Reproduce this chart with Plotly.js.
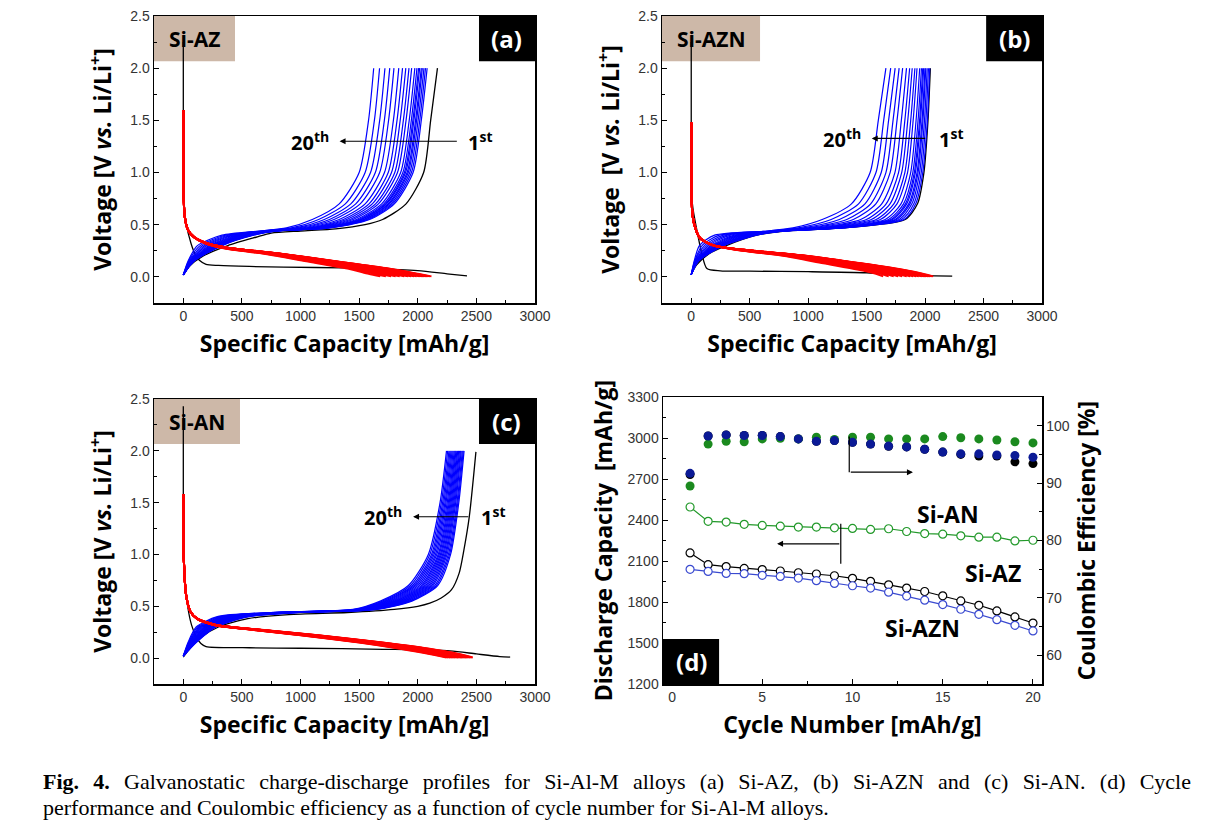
<!DOCTYPE html>
<html><head><meta charset="utf-8">
<script src="https://cdn.plot.ly/plotly-3.0.1.min.js"></script>
<style>
body{margin:0;background:#fff;}
#wrap{position:relative;width:1210px;height:828px;overflow:hidden;}
#chart{position:absolute;left:0;top:0;width:1210px;height:828px;}
.cap{position:absolute;left:43px;width:1148px;font-family:"Liberation Serif","Times New Roman",serif;font-size:22px;line-height:26px;color:#000;white-space:nowrap;}
#cap1{top:769px;text-align:justify;text-align-last:justify;white-space:normal;}
#cap2{top:795px;}
</style></head>
<body><div id="wrap"><div id="chart"></div>
<div class="cap" id="cap1"><b>Fig. 4.</b> Galvanostatic charge-discharge profiles for Si-Al-M alloys (a) Si-AZ, (b) Si-AZN and (c) Si-AN. (d) Cycle</div>
<div class="cap" id="cap2">performance and Coulombic efficiency as a function of cycle number for Si-Al-M alloys.</div>
</div>
<script>
// ---------- shared voltage levels for charge (delithiation) curves ----------
const chargeV = [0.02, 0.15, 0.3, 0.4, 0.44, 0.47, 0.55, 0.7, 1.0, 1.5, 2.0];

// ---------- (a) Si-AZ ----------
const azChargeCap = [ // cycles 2..20
[0,90,330,600,800,1250,1590,1800,1960,2030,2080],
[0,88,324,592,796,1239,1575,1786,1946,2017,2066],
[0,87,317,584,791,1228,1561,1772,1932,2003,2053],
[0,86,311,576,787,1217,1546,1758,1919,1990,2039],
[0,85,307,570,784,1209,1536,1748,1909,1981,2030],
[0,83,301,562,779,1198,1521,1734,1896,1967,2016],
[0,82,296,557,776,1191,1512,1725,1886,1958,2007],
[0,80,290,549,772,1180,1497,1711,1873,1945,1993],
[0,79,282,538,766,1165,1477,1692,1854,1927,1975],
[0,76,269,522,757,1143,1448,1664,1827,1900,1948],
[0,73,259,508,749,1124,1423,1640,1804,1877,1925],
[0,70,246,492,740,1102,1394,1612,1776,1850,1898],
[0,67,233,476,731,1080,1365,1584,1748,1823,1870],
[0,64,219,457,720,1054,1330,1551,1716,1792,1838],
[0,59,200,433,707,1021,1286,1509,1675,1751,1797],
[0,55,183,411,695,991,1247,1471,1638,1715,1761],
[0,50,164,387,682,958,1203,1429,1597,1675,1720],
[0,45,143,360,667,921,1154,1382,1551,1630,1674],
[0,40,120,330,650,880,1100,1330,1500,1580,1624]];
const azDisV = [1.6,1.0,0.6,0.45,0.38,0.32,0.28,0.22,0.15,0.08,0.03,0.005];
const azDisCap = [ // cycles 2..20
[0,2,10,40,95,210,380,850,1300,1750,2000,2117],
[0,2,10,40,95,209,378,846,1293,1740,1987,2104],
[0,2,10,40,95,209,376,841,1285,1729,1975,2091],
[0,2,10,40,95,208,375,837,1278,1719,1962,2078],
[0,2,10,40,94,208,373,834,1273,1712,1954,2069],
[0,2,10,40,94,207,372,829,1265,1701,1941,2056],
[0,2,10,40,94,207,370,826,1260,1694,1933,2047],
[0,2,10,40,94,206,369,822,1253,1684,1920,2034],
[0,2,10,40,94,205,366,816,1243,1670,1903,2016],
[0,2,10,40,94,204,363,807,1228,1649,1878,1990],
[0,2,10,40,93,203,360,799,1215,1631,1857,1968],
[0,2,10,40,93,202,356,790,1200,1610,1832,1942],
[0,2,10,40,93,201,352,781,1185,1589,1807,1916],
[0,2,10,40,92,199,348,771,1168,1565,1777,1885],
[0,2,10,40,92,198,343,757,1145,1533,1740,1846],
[0,2,10,40,92,196,338,745,1125,1505,1706,1811],
[0,2,10,40,91,194,333,732,1103,1474,1668,1772],
[0,2,10,40,91,192,327,717,1078,1439,1626,1728],
[0,2,10,40,90,190,320,700,1050,1400,1580,1680]];
const azFirstDisCap = [0,0,8,23,66,108,137,194,300,564,1134,1600,2000,2250,2420];
const azFirstDisV   = [2.25,1.2,0.7,0.52,0.32,0.2,0.16,0.12,0.11,0.1,0.09,0.08,0.06,0.03,0.01];
const azFirstChgCap = [0,50,170,380,620,750,1000,1300,1550,1700,1900,2050,2110,2168];
const azFirstChgV   = [0.02,0.1,0.2,0.3,0.38,0.42,0.44,0.46,0.5,0.55,0.7,1.0,1.5,2.0];

// ---------- (b) Si-AZN ----------
const aznChargeCap = [
[0,60,276,560,800,1300,1820,1920,1980,2020,2040],
[0,59,270,549,796,1287,1799,1904,1967,2007,2029],
[0,58,264,538,791,1274,1778,1887,1953,1995,2018],
[0,57,257,528,787,1261,1757,1871,1940,1982,2006],
[0,56,253,520,784,1253,1743,1860,1931,1974,1999],
[0,55,247,510,779,1240,1722,1843,1917,1961,1988],
[0,54,243,502,776,1231,1708,1832,1908,1953,1980],
[0,53,237,492,772,1218,1687,1816,1895,1940,1969],
[0,52,229,477,766,1201,1659,1794,1877,1923,1954],
[0,50,216,456,757,1175,1617,1760,1850,1898,1931],
[0,48,206,438,749,1154,1582,1733,1827,1877,1913],
[0,46,194,416,740,1128,1540,1700,1800,1852,1890],
[0,44,181,394,731,1102,1498,1667,1773,1827,1868],
[0,41,167,369,721,1072,1449,1629,1742,1797,1841],
[0,38,148,337,707,1033,1386,1579,1701,1760,1808],
[0,36,132,308,695,999,1330,1535,1665,1726,1778],
[0,32,113,276,682,960,1267,1486,1625,1688,1744],
[0,29,93,240,667,917,1197,1431,1580,1646,1706],
[0,25,70,200,650,870,1120,1370,1530,1600,1665]];
const aznDisV = [1.48,1.0,0.6,0.45,0.37,0.3,0.26,0.2,0.13,0.07,0.03,0.005];
const aznDisCap = [
[0,2,10,40,77,200,450,1000,1450,1800,1980,2070],
[0,2,10,40,77,200,448,994,1440,1789,1968,2057],
[0,2,10,40,77,199,446,988,1431,1777,1956,2044],
[0,2,10,40,77,199,444,982,1421,1766,1944,2031],
[0,2,10,40,77,199,442,978,1415,1758,1936,2023],
[0,2,10,40,77,199,440,972,1405,1747,1924,2010],
[0,2,10,40,77,198,439,968,1399,1739,1916,2002],
[0,2,10,40,77,198,437,962,1389,1728,1904,1989],
[0,2,10,40,77,198,434,954,1376,1713,1888,1972],
[0,2,10,40,76,197,430,942,1357,1690,1864,1946],
[0,2,10,40,76,197,426,932,1341,1671,1844,1924],
[0,2,10,40,76,196,422,920,1322,1648,1820,1899],
[0,2,10,40,76,195,418,908,1303,1625,1796,1873],
[0,2,10,40,76,195,413,894,1280,1599,1768,1843],
[0,2,10,40,76,194,407,876,1252,1564,1732,1805],
[0,2,10,40,76,193,401,860,1226,1534,1700,1770],
[0,2,10,40,75,192,395,842,1197,1500,1664,1732],
[0,2,10,40,75,191,388,822,1165,1462,1624,1689],
[0,2,10,40,75,190,380,800,1130,1420,1580,1642]];
const aznFirstDisCap = [0,0,10,48,91,134,248,500,1000,1500,1800,2000,2232];
const aznFirstDisV   = [2.25,1.5,0.7,0.45,0.22,0.08,0.058,0.055,0.05,0.04,0.02,0.012,0.008];
const aznFirstChgCap = [0,50,150,300,560,800,1300,1830,1935,1990,2025,2045];
const aznFirstChgV   = [0.03,0.12,0.22,0.3,0.4,0.44,0.47,0.55,0.7,1.0,1.5,2.0];

// ---------- (c) Si-AN ----------
const anChargeCap = [
[0,110,280,560,1000,1650,1950,2170,2280,2350,2395],
[0,107,272,547,988,1640,1937,2158,2271,2342,2388],
[0,103,263,533,975,1630,1923,2145,2261,2334,2380],
[0,99,253,517,960,1618,1907,2130,2250,2324,2371],
[0,95,244,503,948,1608,1893,2118,2240,2316,2364],
[0,92,236,490,935,1598,1880,2105,2231,2308,2356],
[0,88,227,476,923,1588,1866,2093,2221,2300,2349],
[0,85,219,463,910,1578,1853,2080,2212,2292,2341],
[0,81,210,449,898,1568,1839,2068,2202,2284,2334],
[0,78,202,436,885,1558,1826,2055,2193,2276,2326],
[0,74,193,422,873,1548,1812,2043,2183,2268,2319],
[0,71,185,409,860,1538,1799,2030,2174,2260,2311],
[0,67,175,393,845,1526,1783,2015,2162,2251,2302],
[0,62,164,376,830,1514,1766,2000,2151,2241,2293],
[0,58,154,360,815,1502,1750,1985,2139,2232,2284],
[0,54,144,344,800,1490,1734,1970,2128,2222,2275],
[0,50,134,328,785,1478,1718,1955,2117,2212,2266],
[0,45,122,309,768,1464,1699,1938,2103,2201,2255],
[0,40,110,290,750,1450,1680,1920,2090,2190,2245]];
const anDisV = [1.58,1.0,0.6,0.45,0.38,0.32,0.28,0.22,0.15,0.09,0.04,0.005];
const anDisCap = [
[0,3,25,60,120,280,600,1150,1700,2100,2350,2470],
[0,3,25,60,120,279,597,1143,1690,2088,2338,2459],
[0,3,25,60,120,278,593,1135,1680,2075,2325,2448],
[0,3,25,60,119,277,589,1126,1668,2060,2310,2434],
[0,3,25,60,119,276,585,1119,1658,2048,2298,2423],
[0,3,25,60,119,275,582,1111,1648,2035,2285,2412],
[0,3,25,60,118,274,578,1104,1638,2023,2273,2400],
[0,3,25,60,118,273,575,1096,1628,2010,2260,2389],
[0,3,25,60,118,272,571,1089,1618,1998,2248,2378],
[0,3,25,60,118,271,568,1081,1608,1985,2235,2367],
[0,3,25,60,117,270,564,1074,1598,1973,2223,2355],
[0,3,25,60,117,269,561,1066,1588,1960,2210,2344],
[0,3,25,60,117,268,557,1057,1576,1945,2195,2331],
[0,3,25,60,117,266,552,1048,1564,1930,2180,2317],
[0,3,25,60,116,265,548,1039,1552,1915,2165,2304],
[0,3,25,60,116,264,544,1030,1540,1900,2150,2290],
[0,3,25,60,116,263,540,1021,1528,1885,2135,2277],
[0,3,25,60,115,261,535,1011,1514,1868,2118,2261],
[0,3,25,60,115,260,530,1000,1500,1850,2100,2245]];
const anFirstDisCap = [0,0,10,37,70,108,150,194,564,1000,1704,2274,2500,2700,2788];
const anFirstDisV   = [2.43,1.5,0.8,0.5,0.32,0.21,0.14,0.11,0.1,0.095,0.085,0.07,0.04,0.015,0.01];
const anFirstChgCap = [0,60,150,300,550,900,1400,1800,2000,2103,2200,2288,2353,2393,2439,2496];
const anFirstChgV   = [0.01,0.1,0.2,0.3,0.38,0.42,0.44,0.47,0.5,0.53,0.58,0.66,0.82,1.04,1.36,1.99];

// ---------- (d) cycle performance ----------
const cycles = [1,2,3,4,5,6,7,8,9,10,11,12,13,14,15,16,17,18,19,20];
const anCap  = [2495,2390,2385,2368,2360,2355,2348,2348,2343,2338,2331,2336,2316,2301,2296,2284,2274,2274,2247,2252];
const azCap  = [2159,2073,2059,2046,2037,2027,2014,2005,1992,1973,1951,1926,1902,1877,1845,1808,1776,1735,1691,1646];
const aznCap = [2039,2024,2009,2007,1995,1987,1975,1956,1936,1919,1902,1872,1843,1813,1781,1747,1710,1671,1629,1588];
const anCE   = [89.5,96.8,97.3,97.2,97.7,97.8,97.7,98.0,97.6,98.0,98.0,97.7,97.7,97.7,98.1,97.9,97.7,97.5,97.2,97.0];
const azCE   = [91.5,98.2,98.4,98.3,98.3,98.1,97.7,97.3,97.4,97.1,96.8,96.4,96.3,95.9,95.4,95.0,94.7,94.7,93.7,93.4];
const aznCE  = [91.7,98.2,98.4,98.3,98.3,98.1,97.7,97.3,97.4,97.1,96.8,96.45,96.3,95.9,95.4,95.1,95.1,94.9,94.8,94.5];

// ---------- build ----------
const BLUE='#0000ff', RED='#ff0000', BLACK='#000000';
const traces=[];
function line(xa,ya,x,y,color,width){
  traces.push({x:x,y:y,xaxis:xa,yaxis:ya,mode:'lines',hoverinfo:'skip',showlegend:false,
    line:{color:color,width:width,shape:'spline',smoothing:0.7}});
}
function panel(xa,ya,chg,dis,disV,fdc,fdv,fcc,fcv){
  line(xa,ya,fdc,fdv,BLACK,1.3);
  line(xa,ya,fcc,fcv,BLACK,1.3);
  chg.forEach(r=>line(xa,ya,r,chargeV,BLUE,1.2));
  dis.forEach(r=>line(xa,ya,r,disV,RED,2));
}
panel('x','y',azChargeCap,azDisCap,azDisV,azFirstDisCap,azFirstDisV,azFirstChgCap,azFirstChgV);
panel('x2','y2',aznChargeCap,aznDisCap,aznDisV,aznFirstDisCap,aznFirstDisV,aznFirstChgCap,aznFirstChgV);
panel('x3','y3',anChargeCap,anDisCap,anDisV,anFirstDisCap,anFirstDisV,anFirstChgCap,anFirstChgV);

function openSeries(y,color){
  traces.push({x:cycles,y:y,xaxis:'x4',yaxis:'y4',mode:'lines+markers',hoverinfo:'skip',showlegend:false,
    line:{color:color,width:1.2},marker:{symbol:'circle',size:8,color:'#ffffff',line:{color:color,width:1.2}}});
}
function ceSeries(y,color){
  traces.push({x:cycles,y:y,xaxis:'x4',yaxis:'y5',mode:'markers',hoverinfo:'skip',showlegend:false,
    marker:{symbol:'circle',size:9,color:color}});
}
openSeries(anCap,'#22992a');
openSeries(azCap,'#000000');
openSeries(aznCap,'#3a4ad0');
ceSeries(azCE,'#000000');
ceSeries(anCE,'#1b8a1f');
ceSeries(aznCE,'#0b1a96');

// ---------- layout ----------
const tickFont={family:'"Liberation Sans", Arial, sans-serif',size:14,color:'#333'};
const titleFont={family:'"Open Sans", sans-serif',size:23,color:'#000'};
function ax(extra){
  return Object.assign({showline:true,linecolor:'#000',linewidth:1.5,mirror:true,ticks:'inside',ticklen:5,
    tickwidth:1,tickcolor:'#000',showgrid:false,zeroline:false,tickfont:tickFont,fixedrange:true},extra);
}
const D=(a,b)=>[a/1210,b/1210];
const V=(top,bot)=>[1-bot/828,1-top/828];
const capX=(dom,anchor)=>ax({domain:dom,anchor:anchor,range:[-250,3000],tickvals:[0,500,1000,1500,2000,2500,3000],
  minor:{ticks:'inside',ticklen:3,tickcolor:'#000',dtick:250,tick0:0},
  title:{text:'<b>Specific Capacity [mAh/g]</b>',font:titleFont,standoff:12}});
const voltY=(dom,anchor,txt)=>ax({domain:dom,anchor:anchor,range:[-0.25,2.5],tickvals:[0,0.5,1,1.5,2,2.5],tickformat:'.1f',
  minor:{ticks:'inside',ticklen:3,tickcolor:'#000',dtick:0.25,tick0:0},
  title:{text:txt,font:titleFont,standoff:12}});

const vt='<b>Voltage [V <i>vs.</i> Li/Li<sup>+</sup>]</b>';
const vt2='<b>Voltage \u00a0[V <i>vs.</i> Li/Li<sup>+</sup>]</b>';

const layout={
  width:1210,height:828,margin:{l:0,r:0,t:0,b:0},paper_bgcolor:'#fff',plot_bgcolor:'#fff',showlegend:false,
  xaxis:capX(D(154,535),'y'), yaxis:voltY(V(16,303),'x',vt),
  xaxis2:capX(D(662,1042),'y2'), yaxis2:voltY(V(16,303),'x2',vt2),
  xaxis3:capX(D(154,535),'y3'), yaxis3:voltY(V(399,684),'x3',vt),
  xaxis4:ax({domain:D(663,1042),anchor:'y4',range:[-0.5,20.5],tickvals:[0,5,10,15,20],
    minor:{ticks:'inside',ticklen:3,tickcolor:'#000',dtick:2.5,tick0:0},
    title:{text:'<b>Cycle Number [mAh/g]</b>',font:titleFont,standoff:12}}),
  yaxis4:ax({domain:V(397,684),anchor:'x4',range:[1200,3300],tickvals:[1200,1500,1800,2100,2400,2700,3000,3300],mirror:false,
    minor:{ticks:'inside',ticklen:3,tickcolor:'#000',dtick:150,tick0:1200},
    title:{text:'<b>Discharge Capacity \u00a0[mAh/g]</b>',font:titleFont,standoff:8}}),
  yaxis5:ax({overlaying:'y4',anchor:'x4',side:'right',range:[55,105],tickvals:[60,70,80,90,100],mirror:false,
    minor:{ticks:'inside',ticklen:3,tickcolor:'#000',dtick:5,tick0:55},
    title:{text:'<b>Coulombic Efficiency [%]</b>',font:titleFont,standoff:10}}),
  shapes:[],annotations:[]
};

const TAN='#cdb8a8';
function labelBoxes(xa,ya,nameW,name,tag){
  const xd=xa+' domain', yd=ya+' domain';
  layout.shapes.push({type:'rect',xref:xd,yref:yd,x0:0,x1:nameW,y0:0.842,y1:1,fillcolor:TAN,line:{width:0},layer:'below'});
  layout.shapes.push({type:'rect',xref:xd,yref:yd,x0:0.853,x1:1,y0:0.842,y1:1,fillcolor:'#000',line:{width:0},layer:'above'});
  layout.annotations.push({xref:xd,yref:yd,x:nameW/2,y:0.921,xanchor:'center',yanchor:'middle',text:'<b>'+name+'</b>',showarrow:false,
    font:{family:'"Open Sans", sans-serif',size:21,color:'#000'}});
  layout.annotations.push({xref:xd,yref:yd,x:0.9265,y:0.921,xanchor:'center',yanchor:'middle',text:'<b>'+tag+'</b>',showarrow:false,
    font:{family:'"Open Sans", sans-serif',size:24,color:'#fff'}});
}
labelBoxes('x','y',0.2126,'Si-AZ','(a)');
labelBoxes('x2','y2',0.258,'Si-AZN','(b)');
labelBoxes('x3','y3',0.2257,'Si-AN','(c)');

function cycArrow(xa,ya,t20,t1,from,to,y){
  const f={family:'"Open Sans", sans-serif',size:20,color:'#000'};
  layout.annotations.push({xref:xa,yref:ya,x:t20,y:y,xanchor:'center',yanchor:'middle',text:'<b>20<sup>th</sup></b>',showarrow:false,font:f});
  layout.annotations.push({xref:xa,yref:ya,x:t1,y:y,xanchor:'center',yanchor:'middle',text:'<b>1<sup>st</sup></b>',showarrow:false,font:f});
  layout.annotations.push({xref:xa,yref:ya,axref:xa,ayref:ya,x:to,y:y,ax:from,ay:y,text:'',showarrow:true,
    arrowhead:2,arrowsize:1,arrowwidth:1.2,arrowcolor:'#000'});
}
cycArrow('x','y',1077,2530,2346,1333,1.3);
cycArrow('x2','y2',1290,2222,2014,1544,1.327);
cycArrow('x3','y3',1703,2644,2444,1960,1.364);

// panel (d) decorations
layout.shapes.push({type:'rect',xref:'x4 domain',yref:'y4 domain',x0:0,x1:0.148,y0:0,y1:0.157,fillcolor:'#000',line:{width:0},layer:'above'});
layout.annotations.push({xref:'x4 domain',yref:'y4 domain',x:0.074,y:0.0785,xanchor:'center',yanchor:'middle',text:'<b>(d)</b>',showarrow:false,
  font:{family:'"Open Sans", sans-serif',size:24,color:'#fff'}});
const sf={family:'"Open Sans", sans-serif',size:23,color:'#000'};
layout.annotations.push({xref:'x4',yref:'y4',x:15.28,y:2445,xanchor:'center',yanchor:'middle',text:'<b>Si-AN</b>',showarrow:false,font:sf});
layout.annotations.push({xref:'x4',yref:'y4',x:17.76,y:2012,xanchor:'center',yanchor:'middle',text:'<b>Si-AZ</b>',showarrow:false,font:sf});
layout.annotations.push({xref:'x4',yref:'y4',x:13.9,y:1612,xanchor:'center',yanchor:'middle',text:'<b>Si-AZN</b>',showarrow:false,font:sf});
layout.shapes.push({type:'line',xref:'x4',yref:'y4',x0:9.35,x1:9.35,y0:2080,y1:2373,line:{color:'#000',width:1.2}});
layout.annotations.push({xref:'x4',yref:'y4',axref:'x4',ayref:'y4',x:5.82,y:2226,ax:9.35,ay:2226,text:'',showarrow:true,
  arrowhead:2,arrowsize:1,arrowwidth:1.2,arrowcolor:'#000'});
layout.shapes.push({type:'line',xref:'x4',yref:'y4',x0:9.82,x1:9.82,y0:3011,y1:2750,line:{color:'#000',width:1.2}});
layout.annotations.push({xref:'x4',yref:'y4',axref:'x4',ayref:'y4',x:13.35,y:2750,ax:9.82,ay:2750,text:'',showarrow:true,
  arrowhead:2,arrowsize:1,arrowwidth:1.2,arrowcolor:'#000'});

Plotly.newPlot('chart',traces,layout,{displayModeBar:false,staticPlot:true});
</script>
</body></html>
